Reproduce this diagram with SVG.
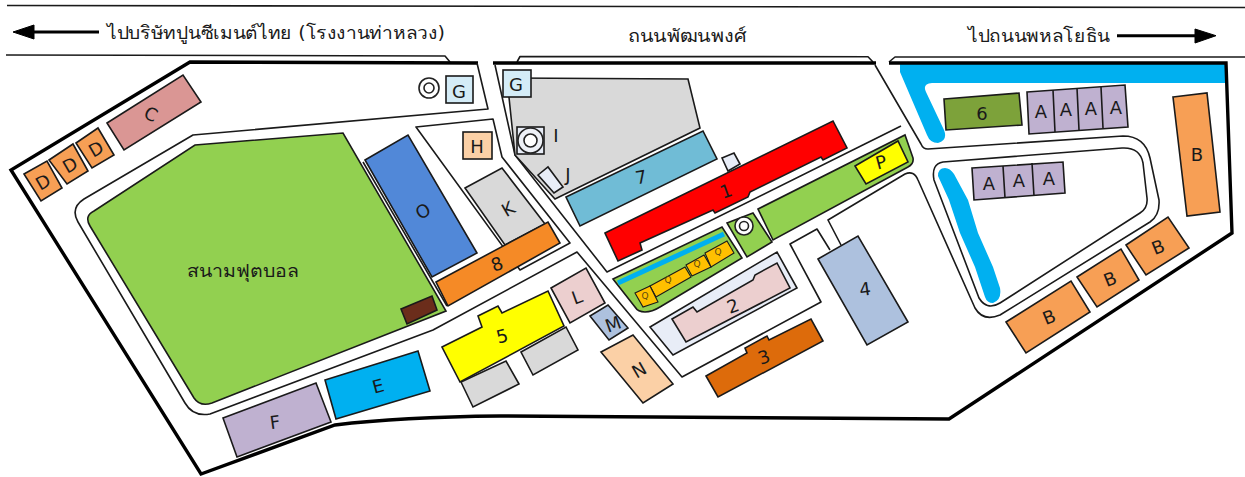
<svg xmlns="http://www.w3.org/2000/svg" width="1245" height="477" viewBox="0 0 1245 477">
<style>
text{font-family:"DejaVu Sans","Noto Sans",sans-serif;fill:#1a1a1a;text-anchor:middle;dominant-baseline:central}
.t{font-size:18px}
.l{font-size:18px}
.s{font-size:9px;fill:#5a4a10}
.b{stroke:#1a1a1a;stroke-width:1.6;stroke-linejoin:miter}
.q{stroke:#1a1a1a;stroke-width:1.1;fill:#ffc000}
.r{fill:none;stroke:#1a1a1a;stroke-width:1.6;stroke-linejoin:round}
.o{fill:none;stroke:#000;stroke-width:3.4;stroke-linejoin:miter}
.tg{fill:#fff;stroke:#222;stroke-width:1.6}
.w{fill:#00b0f0}
</style>
<rect width="1245" height="477" fill="#fff"/>
<g id="water">
<path class="w" d="M900,64H1225V83H932Q922,84 926,92L944,130Q948,140 938,143Q930,143 927,135L900,72Z"/>
<path class="w" d="M938,176Q938,168 945,168Q950,168 954,174L968,200L978,233L993,267L1000,288Q1002,300 993,303Q987,303 985,297L975,267L960,233L949,200Z"/>
</g>
<g id="connectors">
<path class="r" d="M7,5.500L1245,7.500M6,55L445,56L450,62M517,62L520,56.500L868,56.700L873,62M889,62L895,57L1245,57"/>
<path class="o" d="M478,63L190,62L11,170L201,474L335,425Q400,417 500,416L949,419L1232,233L1226,63L889,63M493,63L876,63"/>
<path class="r" d="M477,63L488,109L193,135L84,199Q70,208 78,222L185,403Q193,417 210,414L433,330L577,252L682,377L821,302L790,244L817,229L830,250M841,245L828,220L905,174Q914,170 918,180L975,308Q983,322 1000,315L1150,222Q1160,215 1159,200L1150,158Q1145,136 1123,136L928,149Q923,149 921,144L875,65M495,65L515,155L607,272L901,126"/>
<path class="r" d="M416,127L493,119L502,157L570,243L520,270L416,127Z"/>
<path class="r" d="M363,162L447,306"/>
<path class="r" d="M943,162L1122,148Q1140,147 1143,163L1147,198Q1148,208 1140,213L1000,303Q987,311 979,298L934,180Q931,164 943,162Z"/>
<g stroke="#000" fill="#000">
<path d="M13,32L34,25V39Z"/><path d="M34,32H99" stroke-width="3" fill="none"/>
<path d="M1216,35.700L1195,29V43Z"/><path d="M1117,35.700H1197" stroke-width="3" fill="none"/>
</g>
</g>
<g id="labels-road">
<text class="t" x="276" y="32" textLength="338" lengthAdjust="spacingAndGlyphs">ไปบริษัทปูนซีเมนต์ไทย (โรงงานท่าหลวง)</text>
<text class="t" x="687" y="35" textLength="118" lengthAdjust="spacingAndGlyphs">ถนนพัฒนพงศ์</text>
<text class="t" x="1039" y="35" textLength="142" lengthAdjust="spacingAndGlyphs">ไปถนนพหลโยธิน</text>
</g>
<g id="gray-site"><path class="b" fill="#d9d9d9" d="M507,78L688,79L700,128L555,199L515,155Z"/></g>
<g id="field"><path class="b" fill="#92d050" d="M195,145L343,133L446,311L212,403Q200,407 194,398L90,226Q84,216 94,211Z"/><text class="t" x="243" y="270" textLength="112" lengthAdjust="spacingAndGlyphs">สนามฟุตบอล</text></g>
<g id="stand"><path class="b" fill="#6b2d1b" d="M401,309L432,296L437,310L407,324Z"/></g>
<g id="node-O"><path class="b" fill="#5188d8" d="M365,160L408,135L477,253L432,277Z"/><text class="l" transform="translate(423,211) rotate(-30)">O</text></g>
<g id="node-C"><path class="b" fill="#da9694" d="M107,123L183,75L201,102L124,150Z"/><text class="l" transform="translate(151,114) rotate(25)">C</text></g>
<g id="node-D1"><path class="b" fill="#f79f55" d="M24,174L47,161L62,188L41,201Z"/><text class="l" transform="translate(43,182) rotate(-30)">D</text></g>
<g id="node-D2"><path class="b" fill="#f79f55" d="M49,160L73,144L88,171L67,184Z"/><text class="l" transform="translate(70,165) rotate(-30)">D</text></g>
<g id="node-D3"><path class="b" fill="#f79f55" d="M76,143L98,128L114,155L92,168Z"/><text class="l" transform="translate(96,149) rotate(-30)">D</text></g>
<g id="node-G1"><circle class="tg" cx="429" cy="88" r="10"/><circle class="tg" cx="429" cy="88" r="5"/><rect class="b" fill="#d4ecf7" x="446" y="76" width="27" height="27"/><text class="l" x="459" y="91">G</text></g>
<g id="node-H"><rect class="b" fill="#fbd0a6" x="463" y="132" width="29" height="27"/><text class="l" x="477" y="146">H</text></g>
<g id="node-K"><path class="b" fill="#d9d9d9" d="M465,188L502,168L545,224L505,245Z"/><text class="l" transform="translate(508,209) rotate(-30)">K</text></g>
<g id="node-8"><path class="b" fill="#f58a26" d="M436,282L548,222L560,243L448,306Z"/><text class="l" transform="translate(497,264) rotate(-20)">8</text></g>
<g id="node-G2"><rect class="b" fill="#d4ecf7" x="503" y="70" width="28" height="27"/><text class="l" x="516" y="84">G</text></g>
<g id="node-I"><rect class="b" fill="#e8edf7" x="517" y="127" width="27" height="27"/><circle class="tg" cx="530.500" cy="140.500" r="12.500" style="fill:#eef1f7"/><circle class="tg" cx="530.500" cy="140.500" r="6.500"/><text class="l" x="556" y="135">I</text></g>
<g id="node-J"><path class="b" fill="#e8edf7" d="M538,175L548,167L563,187L554,193Z"/><text class="l" x="568" y="174">J</text></g>
<g id="node-7"><path class="b" fill="#70bcd6" d="M566,197L703,131L717,159L580,226Z"/><text class="l" transform="translate(641,177) rotate(-10)">7</text></g>
<g id="node-annex"><path class="b" fill="#e8edf7" d="M722,158L734,153L740,164L728,171Z"/></g>
<g id="node-1"><path class="b" fill="#ff0000" d="M605,233L833,121L847,148L823,160L821,157L750,192L748,197L715,213L713,210L640,243L642,250L618,261Z"/><text class="l" transform="translate(726,191) rotate(-20)">1</text></g>
<g id="node-P-green"><path class="b" fill="#92d050" d="M758,209L905,135L913,158Q914,164 908,167L773,240Z"/><path class="b" fill="#ffff00" d="M855,166L898,141L908,162L866,184Z"/><text class="l" transform="translate(881,162) rotate(-15)">P</text></g>
<g id="node-target"><path class="b" fill="#92d050" d="M727,223L753,213L772,242L747,257Z"/><circle class="tg" cx="744" cy="226" r="9"/><circle class="tg" cx="744" cy="226" r="4.500"/></g>
<g id="node-Q"><path class="b" fill="#92d050" d="M613,279L722,227L742,258L660,307Q652,312 645,312Q638,312 635,307Z"/>
<path d="M618,283L724,234" stroke="#00b0f0" stroke-width="5" fill="none"/>
<path class="q" d="M650,286L685,267L691,277L656,297Z"/><path class="q" d="M635,293L650,286L658,302L643,307Z"/><path class="q" d="M686,265L704,255L711,267L692,276Z"/><path class="q" d="M705,253L727,241L734,253L711,267Z"/>
<text class="s" x="645" y="296">Q</text><text class="s" x="668" y="280">Q</text><text class="s" x="697" y="264">Q</text><text class="s" x="718" y="252">Q</text></g>
<g id="node-2"><path class="b" fill="#e8edf7" d="M650,327L777,252L797,288L673,355Z"/><path class="b" fill="#eccfcf" d="M672,319L693,307L697,312L753,280L755,275L777,263L790,288L686,342Z"/><text class="l" transform="translate(733,306) rotate(-20)">2</text></g>
<g id="node-3"><path class="b" fill="#dd6b0b" d="M706,376L747,353L745,348L767,336L769,340L811,319L823,341L718,397Z"/><text class="l" transform="translate(764,357) rotate(-20)">3</text></g>
<g id="node-4"><path class="b" fill="#adc1de" d="M818,259L858,236L908,322L867,345Z"/><text class="l" transform="translate(865,289) rotate(-8)">4</text></g>
<g id="node-5"><path class="b" fill="#d9d9d9" d="M461,382L506,361L519,384L473,407Z"/><path class="b" fill="#d9d9d9" d="M521,352L566,327L578,350L533,375Z"/><path class="b" fill="#ffff00" d="M442,347L482,327L478,316L498,306L502,313L548,291L564,326L460,382Z"/><text class="l" transform="translate(502,336) rotate(-15)">5</text></g>
<g id="node-L"><path class="b" fill="#eccfcf" d="M551,288L586,268L605,303L570,323Z"/><text class="l" transform="translate(577,297) rotate(-20)">L</text></g>
<g id="node-M"><path class="b" fill="#adc1de" d="M590,316L608,305L628,328L609,340Z"/><text class="l" transform="translate(613,324) rotate(-20)">M</text></g>
<g id="node-N"><path class="b" fill="#fbd0a6" d="M601,352L633,335L673,384L643,403Z"/><text class="l" transform="translate(639,370) rotate(-30)">N</text></g>
<g id="node-F"><path class="b" fill="#bfb1d0" d="M223,418L316,383L331,422L237,457Z"/><text class="l" transform="translate(275,422) rotate(-8)">F</text></g>
<g id="node-E"><path class="b" fill="#00b0f0" d="M325,380L418,351L430,391L336,419Z"/><text class="l" transform="translate(378,386) rotate(-15)">E</text></g>
<g id="node-6"><path class="b" fill="#7da23a" d="M944,99L1019,93L1022,125L946,130Z"/><text class="l" x="982" y="113">6</text></g>
<g id="node-A-row1"><path class="b" fill="#bfb1d0" d="M1027,92L1125,85L1128,127L1029,134Z"/><path class="r" d="M1053,90L1055,132M1077,88L1079,130M1101,87L1103,128"/><text class="l" x="1041" y="111">A</text><text class="l" x="1066" y="109">A</text><text class="l" x="1091" y="108">A</text><text class="l" x="1116" y="107">A</text></g>
<g id="node-A-row2"><path class="b" fill="#bfb1d0" d="M972,168L1063,162L1065,193L974,200Z"/><path class="r" d="M1003,166L1005,198M1032,163L1034,196"/><text class="l" x="989" y="183">A</text><text class="l" x="1019" y="180">A</text><text class="l" x="1049" y="178">A</text></g>
<g id="node-B1"><path class="b" fill="#f79f55" d="M1173,97L1207,93L1220,212L1187,216Z"/><text class="l" x="1197" y="154">B</text></g>
<g id="node-B2"><path class="b" fill="#f79f55" d="M1006,322L1071,281L1090,312L1026,353Z"/><text class="l" transform="translate(1049,317) rotate(-22)">B</text></g>
<g id="node-B3"><path class="b" fill="#f79f55" d="M1077,277L1121,249L1139,280L1097,307Z"/><text class="l" transform="translate(1110,279) rotate(-22)">B</text></g>
<g id="node-B4"><path class="b" fill="#f79f55" d="M1126,245L1168,217L1189,248L1146,275Z"/><text class="l" transform="translate(1158,247) rotate(-22)">B</text></g>
</svg>
